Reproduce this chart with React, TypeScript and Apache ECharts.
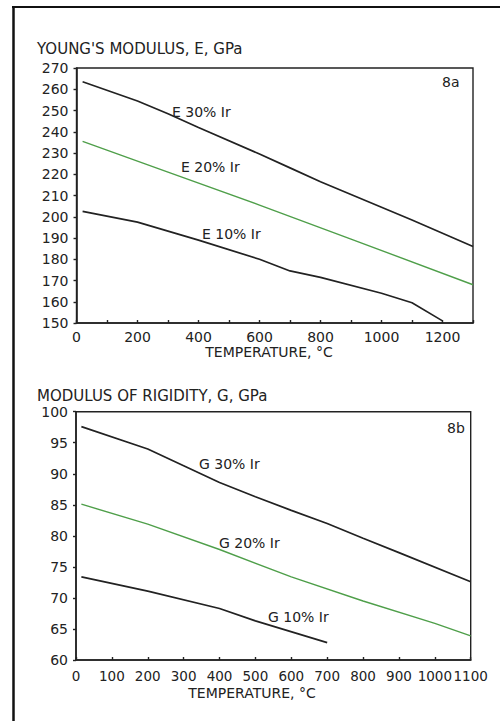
import React, { useEffect, useRef } from "react";
import * as echarts from "echarts";

// Young's modulus E (GPa) vs temperature (°C)
const e30: [number, number][] = [[20, 263.5], [200, 254.5], [300, 248.5], [400, 242], [600, 229.5], [700, 223], [800, 216.5], [1000, 204.5], [1100, 198.5], [1300, 186]];
const e20: [number, number][] = [[20, 235.5], [300, 221], [600, 205.5], [900, 189.5], [1300, 168]];
const e10: [number, number][] = [[20, 202.5], [200, 197.5], [400, 189], [600, 180], [700, 174.5], [800, 171.5], [1000, 164], [1100, 159.5], [1200, 151]];

// Modulus of rigidity G (GPa) vs temperature (°C)
const g30: [number, number][] = [[15, 97.6], [200, 94], [300, 91.3], [400, 88.6], [500, 86.3], [600, 84.1], [700, 82], [800, 79.6], [900, 77.3], [1100, 72.6]];
const g20: [number, number][] = [[15, 85.1], [200, 81.9], [400, 77.8], [600, 73.4], [800, 69.5], [1000, 65.9], [1100, 63.9]];
const g10: [number, number][] = [[15, 73.4], [200, 71.1], [400, 68.3], [500, 66.3], [700, 62.8]];

const titleA = "YOUNG'S MODULUS, E, GPa";
const titleB = "MODULUS OF RIGIDITY, G, GPa";
const xTitle = "TEMPERATURE, °C";
const labelsA = ["E 30% Ir", "E 20% Ir", "E 10% Ir"];
const labelsB = ["G 30% Ir", "G 20% Ir", "G 10% Ir"];

const FONT = "DejaVu Sans";
const INK = "#222222";
const GREEN = "#4f9f4a";

export default function App() {
  const ref = useRef<HTMLDivElement>(null);
  useEffect(() => {
    if (!ref.current) return;
    const chart = echarts.init(ref.current, undefined, { renderer: "svg" });
    const axisLine = { show: true, lineStyle: { color: INK, width: 1.6 } };
    const txt = (text: string, x: number, y: number, size = 14, align = "left") => ({
      type: "text",
      x,
      y,
      style: { text, fill: INK, font: `${size}px ${FONT}`, textAlign: align, textVerticalAlign: "middle" },
    });
    const line = (data: [number, number][], idx: number, color: string) => ({
      type: "line",
      xAxisIndex: idx,
      yAxisIndex: idx,
      data,
      showSymbol: false,
      symbol: "none",
      lineStyle: { color, width: color === GREEN ? 1.4 : 1.7 },
    });
    const lab = { color: INK, fontFamily: FONT, fontSize: 14 };
    chart.setOption({
      animation: false,
      backgroundColor: "#ffffff",
      grid: [
        { left: 76.5, top: 68, width: 396.5, height: 255, show: true, borderColor: INK, borderWidth: 1.4, backgroundColor: "transparent" },
        { left: 76, top: 411.7, width: 394.7, height: 248.3, show: true, borderColor: INK, borderWidth: 1.4, backgroundColor: "transparent" },
      ],
      xAxis: [
        {
          type: "value", gridIndex: 0, min: 0, max: 1300, interval: 100,
          axisLine, splitLine: { show: false },
          axisTick: { show: true, inside: true, length: 3, lineStyle: { color: INK, width: 1.4 } },
          axisLabel: {
            ...lab, margin: 7,
            formatter: (v: number) => (v % 200 === 0 && v <= 1200 ? String(v) : ""),
          },
        },
        {
          type: "value", gridIndex: 1, min: 0, max: 1100, interval: 100,
          axisLine, splitLine: { show: false },
          axisTick: { show: true, inside: true, length: 3, lineStyle: { color: INK, width: 1.4 } },
          axisLabel: { ...lab, fontSize: 13.5, margin: 9, formatter: (v: number) => String(v) },
        },
      ],
      yAxis: [
        {
          type: "value", gridIndex: 0, min: 150, max: 270, interval: 10,
          axisLine, splitLine: { show: false },
          axisTick: { show: true, length: 3, lineStyle: { color: INK, width: 1.4 } },
          axisLabel: { ...lab, margin: 8 },
        },
        {
          type: "value", gridIndex: 1, min: 60, max: 100, interval: 5,
          axisLine, splitLine: { show: false },
          axisTick: { show: true, length: 3, lineStyle: { color: INK, width: 1.4 } },
          axisLabel: { ...lab, margin: 8 },
        },
      ],
      series: [
        line(e30, 0, INK),
        line(e20, 0, GREEN),
        line(e10, 0, INK),
        line(g30, 1, INK),
        line(g20, 1, GREEN),
        line(g10, 1, INK),
      ],
      graphic: [
        { type: "line", shape: { x1: 12, y1: 7, x2: 500, y2: 7 }, style: { stroke: "#111", lineWidth: 2 } },
        { type: "line", shape: { x1: 13.5, y1: 6, x2: 13.5, y2: 721 }, style: { stroke: "#111", lineWidth: 2.5 } },
        txt(titleA, 37, 49, 15),
        txt(titleB, 37, 396, 15),
        txt(xTitle, 269, 352, 14, "center"),
        txt(xTitle, 252, 693, 14, "center"),
        txt(labelsA[0], 172, 112),
        txt(labelsA[1], 181, 167),
        txt(labelsA[2], 202, 234),
        txt("8a", 442, 82),
        txt(labelsB[0], 199, 464),
        txt(labelsB[1], 219, 543),
        txt(labelsB[2], 268, 617),
        txt("8b", 447, 428),
      ],
    });
    return () => chart.dispose();
  }, []);
  return <div ref={ref} style={{ position: "fixed", left: 0, top: 0, width: 501, height: 721, background: "#fff" }} />;
}
